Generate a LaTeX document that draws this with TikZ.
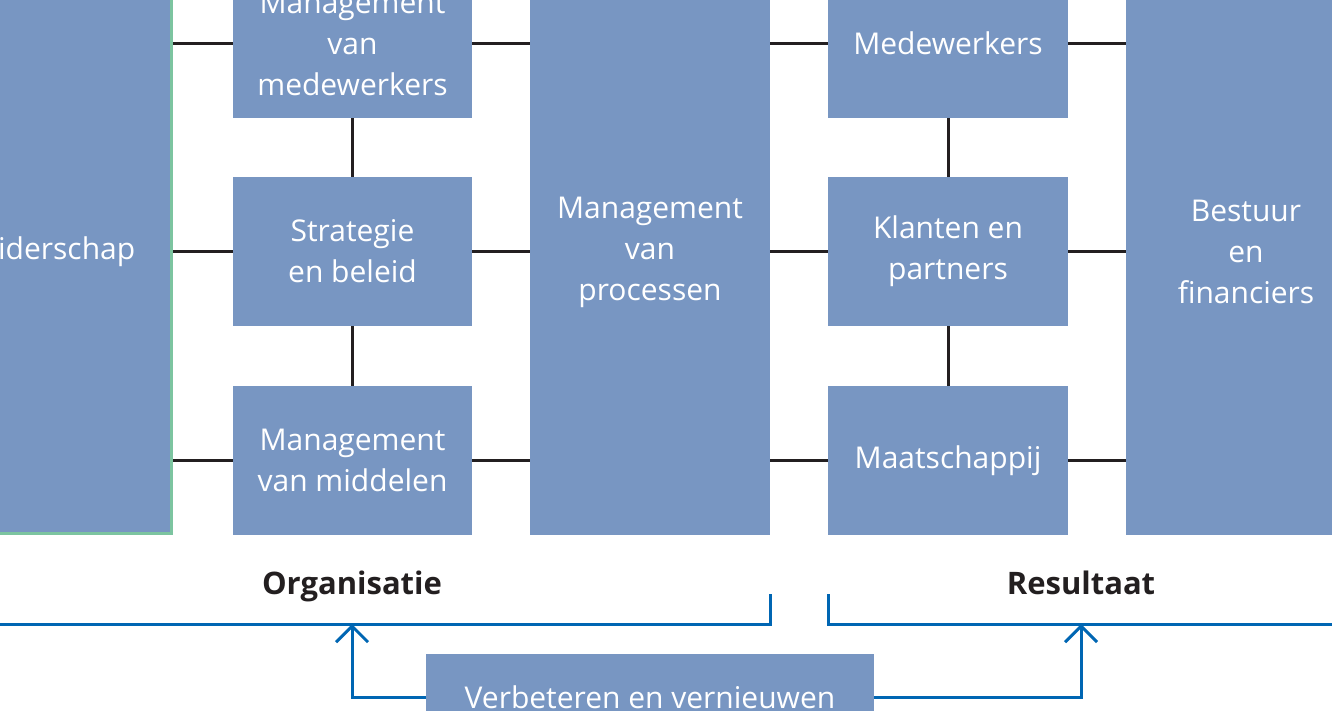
\documentclass[tikz,border=0pt]{standalone}
\usepackage{fontspec}
\setmainfont{Open Sans}
\usetikzlibrary{arrows.meta}
\definecolor{boxblue}{RGB}{120,150,194}
\definecolor{edgegreen}{RGB}{124,196,160}
\definecolor{lineblue}{RGB}{0,102,179}
\definecolor{inkdark}{RGB}{35,31,32}
\begin{document}
\begin{tikzpicture}[x=1pt,y=-1pt,
  box/.style={fill=boxblue, draw=none, text=white, align=center, inner sep=0pt,
    font=\fontsize{30}{41}\selectfont},
  link/.style={draw=inkdark, line width=3pt},
  flow/.style={draw=lineblue, line width=3pt},
  arr/.style={flow, -{Straight Barb[length=16pt,width=32pt,line width=3pt]}},
  lbl/.style={text=inkdark, font=\fontsize{31}{34}\selectfont\bfseries, inner sep=0pt, anchor=base}]
\useasboundingbox (0,0) rectangle (1332,711);
\clip (0,0) rectangle (1332,711);
% tall boxes
\node[box, minimum width=245pt, minimum height=566pt] (lead) at (50.5,252) {Leiderschap};
\node[box, minimum width=240pt, minimum height=566pt] (proc) at (650,252) {Management\\van\\processen};
\node[box, minimum width=240pt, minimum height=566pt] (best) at (1246,252) {Bestuur\\en\\financiers};
% column 2
\node[box, minimum width=239pt, minimum height=149pt] (mmw) at (352.5,43.5) {Management\\van\\medewerkers};
\node[box, minimum width=239pt, minimum height=149pt] (strat) at (352.5,251.5) {Strategie\\en beleid};
\node[box, minimum width=239pt, minimum height=149pt] (mmid) at (352.5,460.5) {Management\\van middelen};
% column 4
\node[box, minimum width=240pt, minimum height=149pt] (medw) at (948,43.5) {Medewerkers};
\node[box, minimum width=240pt, minimum height=149pt] (klant) at (948,251.5) {Klanten en\\partners};
\node[box, minimum width=240pt, minimum height=149pt] (maat) at (948,460.5) {Maatschappij};
% green edge
\draw[edgegreen, line width=3pt] (lead.north east) ++(-1.5,0) coordinate (g1) -- ([yshift=1.5pt]lead.south east -| g1) -- ([yshift=1.5pt]lead.south west);
% black connectors
\foreach \b/\c in {mmw/medw, strat/klant, mmid/maat}{
  \draw[link] (lead.east |- \b.west) -- (\b.west);
  \draw[link] (\b.east) -- (proc.west |- \b.east);
  \draw[link] (proc.east |- \c.west) -- (\c.west);
  \draw[link] (\c.east) -- (best.west |- \c.east);
}
\draw[link] (mmw.south) -- (strat.north);
\draw[link] (strat.south) -- (mmid.north);
\draw[link] (medw.south) -- (klant.north);
\draw[link] (klant.south) -- (maat.north);
% labels
\node[lbl] (org) at (352,594) {Organisatie};
\node[lbl] (res) at (1081,594) {Resultaat};
% blue feedback lines
\coordinate (l0) at (-5,624);
\coordinate (l1) at (770,594);
\coordinate (r0) at (828,594);
\coordinate (r1) at (1340,624);
\draw[flow] (l0) -| (l1);
\draw[flow] (r0) |- (r1);
\node[box, minimum width=448pt, minimum height=86pt] (verb) at (650,697) {Verbeteren en vernieuwen};
\coordinate (ta) at (352,624);
\coordinate (tb) at (1081,624);
\draw[arr] (verb.west) -| (ta);
\draw[arr] (verb.east) -| (tb);
\end{tikzpicture}
\end{document}
